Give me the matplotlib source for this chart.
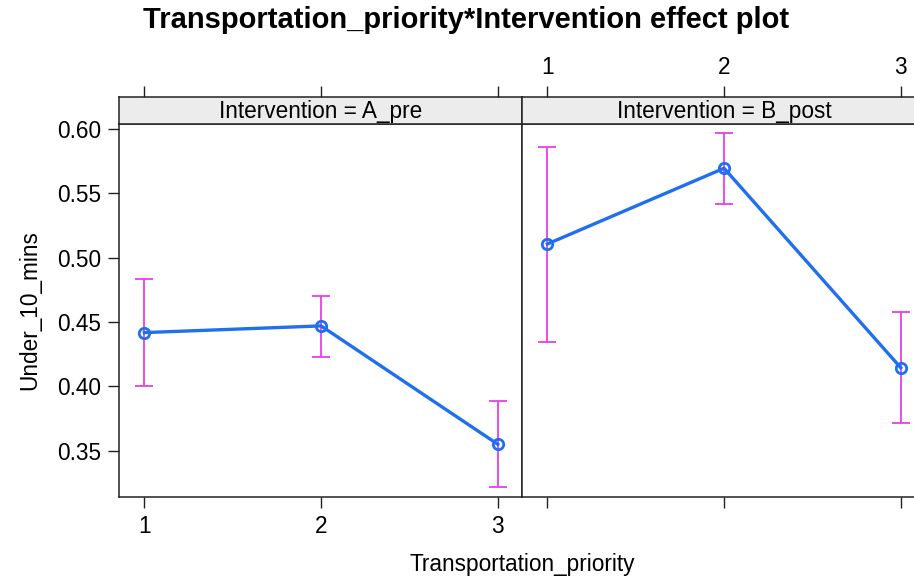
import matplotlib
matplotlib.use("Agg")
import matplotlib.pyplot as plt

plt.rcParams['font.family'] = ['Liberation Sans', 'DejaVu Sans']

# Data
priority = [1, 2, 3]
tick_labels = ["1", "2", "3"]
panels = ["Intervention = A_pre", "Intervention = B_post"]
fit_A = [0.4418, 0.4470, 0.3550]
lower_A = [0.4003, 0.4231, 0.3215]
upper_A = [0.4835, 0.4703, 0.3884]
fit_B = [0.5107, 0.5696, 0.4145]
lower_B = [0.4345, 0.5418, 0.3715]
upper_B = [0.5859, 0.5970, 0.4576]
yticks = [0.35, 0.40, 0.45, 0.50, 0.55, 0.60]

W, H = 914, 579
fig = plt.figure(figsize=(W / 100, H / 100), dpi=100)

line_col = '#1f6fef'
err_col = '#e83ee8'
frame_col = '#222222'
FS = 16.3

def fx(px):
    return px / W

def fy(py):
    return 1 - py / H

panel_lefts = [119.3, 522.3]
panel_w = 403.0
ax_bottom, ax_top, strip_top = 496.7, 124.0, 97.0

series = [(fit_A, lower_A, upper_A), (fit_B, lower_B, upper_B)]

for i, (left, label, (fit, lo, up)) in enumerate(zip(panel_lefts, panels, series)):
    ax = fig.add_axes([fx(left), fy(ax_bottom), fx(panel_w), fy(ax_top) - fy(ax_bottom)])
    yerr = [[f - l for f, l in zip(fit, lo)], [u - f for f, u in zip(fit, up)]]
    ax.errorbar(priority, fit, yerr=yerr, fmt='none', ecolor=err_col, elinewidth=1.3,
                capsize=6.8, capthick=1.3, zorder=2)
    ax.plot(priority, fit, color=line_col, lw=2.4, zorder=3)
    ax.plot(priority, fit, 'o', mfc='none', mec=line_col, mew=2.0, ms=7.5, zorder=4)
    ax.set_xlim(0.858, 3.139)
    ax.set_ylim(0.3142, 0.604)
    ax.set_xticks(priority)
    ax.set_yticks(yticks)
    for s in ax.spines.values():
        s.set_color(frame_col)
        s.set_linewidth(1.1)
    ax.tick_params(direction='out', length=8, width=1.0, color=frame_col,
                   labelsize=FS, pad=5)
    if i == 0:
        ax.set_xticklabels(tick_labels)
        ax.set_yticklabels([f"{v:.2f}" for v in yticks])
        ax.tick_params(axis='y', left=True, right=False)
    else:
        ax.tick_params(axis='x', labelbottom=False)
        ax.tick_params(axis='y', left=False, right=True, labelleft=False, labelright=False)

    # strip
    sax = fig.add_axes([fx(left), fy(ax_top), fx(panel_w), fy(strip_top) - fy(ax_top)])
    sax.set_facecolor('#ececec')
    sax.set_xlim(0.858, 3.139)
    sax.set_ylim(0, 1)
    sax.set_yticks([])
    sax.set_xticks(priority)
    sax.xaxis.tick_top()
    sax.tick_params(axis='x', direction='out', length=8, width=1.0, color=frame_col,
                    labelsize=FS, pad=5, bottom=False, labelbottom=False,
                    labeltop=(i == 1))
    if i == 1:
        sax.set_xticklabels(tick_labels)
    for s in sax.spines.values():
        s.set_color(frame_col)
        s.set_linewidth(1.1)
    sax.text(2.0, 0.45, label, ha='center', va='center', fontsize=FS)

fig.text(fx(466), fy(20), "Transportation_priority*Intervention effect plot",
         ha='center', va='center', fontsize=21, fontweight='bold')
fig.text(fx(522), fy(565), "Transportation_priority", ha='center', va='center', fontsize=FS)
fig.text(fx(30), fy(310), "Under_10_mins", ha='center', va='center', fontsize=FS,
         rotation=90)

fig.savefig("out.png", dpi=100)
